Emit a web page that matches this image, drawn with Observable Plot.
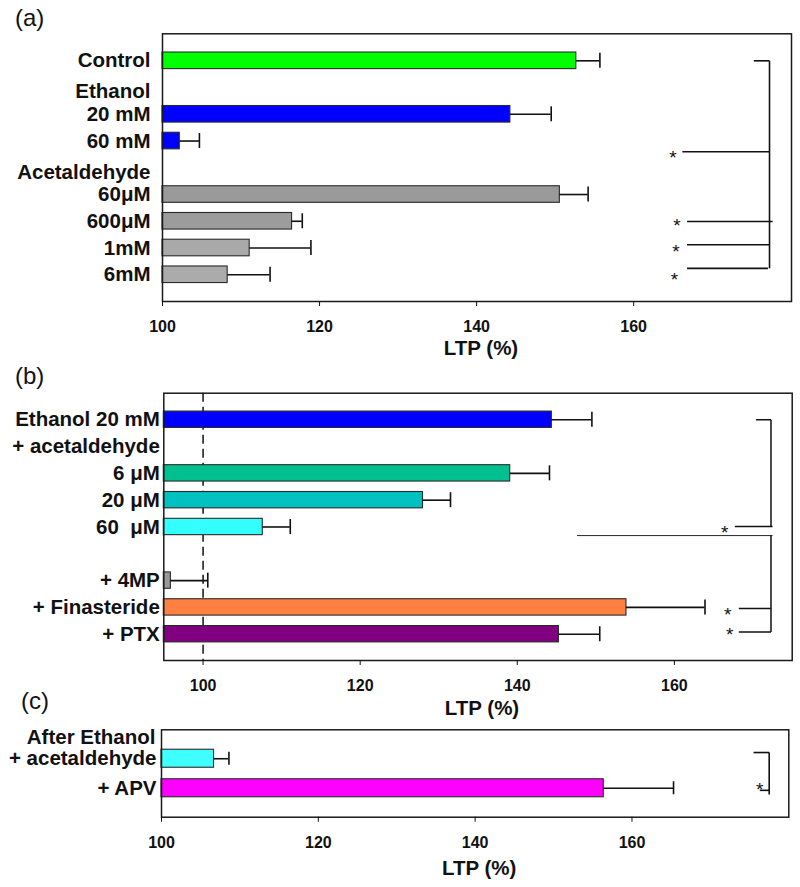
<!DOCTYPE html>
<html><head><meta charset="utf-8">
<script src="https://cdn.jsdelivr.net/npm/d3@7"></script>
<script src="https://cdn.jsdelivr.net/npm/@observablehq/plot@0.6"></script>
<style>
body{margin:0;background:#fff;font-family:"Liberation Sans",Arial,sans-serif;}
#wrap{position:relative;width:800px;height:887px;overflow:hidden;}
.panel{position:absolute;left:0;}
.tag{position:absolute;font-size:24px;line-height:24px;font-family:"Liberation Sans",Arial,sans-serif;color:#111;}
</style></head><body><div id="wrap"></div>
<script>
// ---------- data ----------
const xTicks = [100, 120, 140, 160];

// Panel (a)
const categoriesA = ["Control", "Ethanol", "20 mM", "60 mM", "Acetaldehyde", "60μM", "600μM", "1mM", "6mM"];
const valuesA = [152.7, null, 144.3, 102.2, null, 150.6, 116.5, 111.1, 108.3];
const errorsA = [3.0, null, 5.2, 2.5, null, 3.6, 1.3, 7.8, 5.4];
const colorsA = ["#00ff00", null, "#0000ff", "#0000ff", null, "#9a9a9a", "#9c9c9c", "#a9a9a9", "#ababab"];

// Panel (b)
const categoriesB = ["Ethanol 20 mM", "+ acetaldehyde", "6 μM", "20 μM", "60\u00a0 μM", "", "+ 4MP", "+ Finasteride", "+ PTX"];
const valuesB = [144.4, null, 139.1, 128.0, 107.6, null, 95.9, 153.9, 145.3];
const errorsB = [5.1, null, 5.0, 3.5, 3.5, null, 4.7, 10.0, 5.2];
const colorsB = ["#0000ff", null, "#00c090", "#00c0c0", "#33ffff", null, "#999999", "#ff8040", "#800080"];

// Panel (c)
const headerC = "After Ethanol";
const categoriesC = ["+ acetaldehyde", "+ APV"];
const valuesC = [106.7, 156.4];
const errorsC = [1.9, 8.9];
const colorsC = ["#40ffff", "#ff00ff"];

// significance brackets (x in LTP %, y in row units)
const bracketsA = [
  {x1: 175.3, y1: 0, x2: 177.3, y2: 0},
  {x1: 177.3, y1: 0, x2: 177.3, y2: 7.76},
  {x1: 166.2, y1: 3.40, x2: 177.3, y2: 3.40},
  {x1: 166.8, y1: 6.01, x2: 177.7, y2: 6.01},
  {x1: 166.8, y1: 6.88, x2: 177.3, y2: 6.88},
  {x1: 166.8, y1: 7.76, x2: 177.1, y2: 7.76}
];
const starsA = [{x: 165.0, y: 3.43}, {x: 165.5, y: 5.97}, {x: 165.4, y: 6.94}, {x: 165.2, y: 8.0}];

const bracketsB = [
  {x1: 170.4, y1: 0, x2: 172.3, y2: 0, w: 1.5},
  {x1: 172.3, y1: 0, x2: 172.3, y2: 3.98, w: 1.5},
  {x1: 167.7, y1: 3.98, x2: 172.5, y2: 3.98, w: 1.5},
  {x1: 147.6, y1: 4.32, x2: 172.5, y2: 4.32, w: 0.9},
  {x1: 172.3, y1: 4.32, x2: 172.3, y2: 7.92, w: 1.5},
  {x1: 168.2, y1: 7.04, x2: 172.3, y2: 7.04, w: 1.5},
  {x1: 168.2, y1: 7.92, x2: 172.3, y2: 7.92, w: 1.5}
];
const starsB = [{x: 166.4, y: 4.02}, {x: 166.8, y: 7.08}, {x: 167.05, y: 7.83}];

const bracketsC = [
  {x1: 175.5, y1: -0.21, x2: 177.5, y2: -0.21},
  {x1: 177.5, y1: -0.21, x2: 177.5, y2: 1.21},
  {x1: 176.3, y1: 1.07, x2: 177.5, y2: 1.07}
];
const starsC = [{x: 176.3, y: 0.88}];

// ---------- drawing ----------
const wrap = document.getElementById("wrap");
const LABEL_SIZE = 20.5;

function panel(opt) {
  const rows = opt.cats.map((c, i) => ({i, label: c, v: opt.vals[i], e: opt.errs[i], c: opt.cols[i]}));
  const bars = rows.filter(d => d.v != null);
  const labels = rows.filter(d => d.v != null || !opt.headerRows);
  const heads = opt.headerRows ? rows.filter(d => d.v == null) : [];
  const x0 = opt.xDomain[0];
  const marks = [];
  if (opt.dashed) marks.push(Plot.ruleX([100], {stroke: "#111", strokeWidth: 1.5, strokeDasharray: "9,5"}));
  marks.push(
    Plot.rectX(bars, {x1: () => x0, x2: "v", y1: d => d.i - opt.half, y2: d => d.i + opt.half,
      fill: "c", stroke: "#2a2a2a", strokeWidth: 1.1}),
    Plot.ruleY(bars, {y: "i", x1: "v", x2: d => d.v + d.e, stroke: "#111", strokeWidth: 1.6}),
    Plot.ruleX(bars, {x: d => d.v + d.e, y1: d => d.i - opt.cap, y2: d => d.i + opt.cap, stroke: "#111", strokeWidth: 1.6}),
    Plot.link(opt.brackets, {x1: "x1", y1: "y1", x2: "x2", y2: "y2", stroke: "#111",
      strokeWidth: d => d.w ?? 1.6}),
    Plot.text(opt.stars, {x: "x", y: "y", text: () => "*", fontSize: 19, dy: 5, fill: "#111",
      fontFamily: "Liberation Sans, Arial, sans-serif"}),
    Plot.frame({stroke: "#1a1a1a", strokeWidth: 1.5}),
    Plot.axisX({ticks: xTicks, tickSize: 5, tickPadding: 14, fontSize: 16, fontWeight: "bold",
      label: null, stroke: "#111", fill: "#111"}),
    Plot.text(labels.filter(d => d.label !== ""), {y: "i", text: "label", frameAnchor: "left", textAnchor: "end",
      dx: opt.labelDx, fontSize: LABEL_SIZE, fontWeight: "bold", fill: "#111"}),
    Plot.text(["LTP (%)"], {frameAnchor: "bottom", text: d => d, dy: opt.ltpDy, dx: 4, lineAnchor: "middle",
      fontSize: LABEL_SIZE, fontWeight: "bold", fill: "#111"})
  );
  heads.forEach((h, k) => marks.push(Plot.text([h], {y: "i", text: "label", frameAnchor: "left", textAnchor: "end",
    dx: opt.labelDx, dy: opt.headDy[k], fontSize: LABEL_SIZE, fontWeight: "bold", fill: "#111"})));
  if (opt.extraHead) marks.push(Plot.text([opt.extraHead], {y: () => 0, text: d => d, frameAnchor: "left",
    textAnchor: "end", dx: -6, dy: -21, fontSize: LABEL_SIZE, fontWeight: "bold", fill: "#111"}));

  const svg = Plot.plot({
    width: 800, height: opt.height,
    marginTop: opt.mt, marginBottom: opt.mb, marginLeft: opt.ml, marginRight: opt.mr,
    style: {fontFamily: "Liberation Sans, Arial, sans-serif", background: "transparent", overflow: "visible"},
    x: {domain: opt.xDomain},
    y: {domain: opt.yDomain, axis: null},
    color: {type: "identity"},
    marks
  });
  svg.classList.add("panel");
  svg.style.top = opt.top + "px";
  wrap.appendChild(svg);
}

panel({cats: categoriesA, vals: valuesA, errs: errorsA, cols: colorsA, headerRows: true, headDy: [4, 5],
  xDomain: [100, 180.1], yDomain: [9.0, -1.01], height: 365, top: 0, mt: 33.3, mb: 64, ml: 162, mr: 9,
  half: 0.31, cap: 0.28, labelDx: -12, ltpDy: 47, brackets: bracketsA, stars: starsA});

panel({cats: categoriesB, vals: valuesB, errs: errorsB, cols: colorsB, headerRows: true, headDy: [0, 0],
  xDomain: [95, 175], yDomain: [8.98, -0.99], height: 355, top: 365, mt: 27.7, mb: 60, ml: 163.3, mr: 8.3,
  half: 0.305, cap: 0.28, labelDx: -4, ltpDy: 48, dashed: true, brackets: bracketsB, stars: starsB});

panel({cats: categoriesC, vals: valuesC, errs: errorsC, cols: colorsC, headerRows: false, extraHead: headerC,
  xDomain: [100, 180], yDomain: [1.98, -0.98], height: 167, top: 720, mt: 9.3, mb: 70.3, ml: 161, mr: 11.7,
  half: 0.305, cap: 0.22, labelDx: -5, ltpDy: 51, brackets: bracketsC, stars: starsC});

[["(a)", 15, 6], ["(b)", 15, 364], ["(c)", 21, 689]].forEach(([t, x, y]) => {
  const d = document.createElement("div");
  d.className = "tag"; d.textContent = t; d.style.left = x + "px"; d.style.top = y + "px";
  wrap.appendChild(d);
});
</script></body></html>
